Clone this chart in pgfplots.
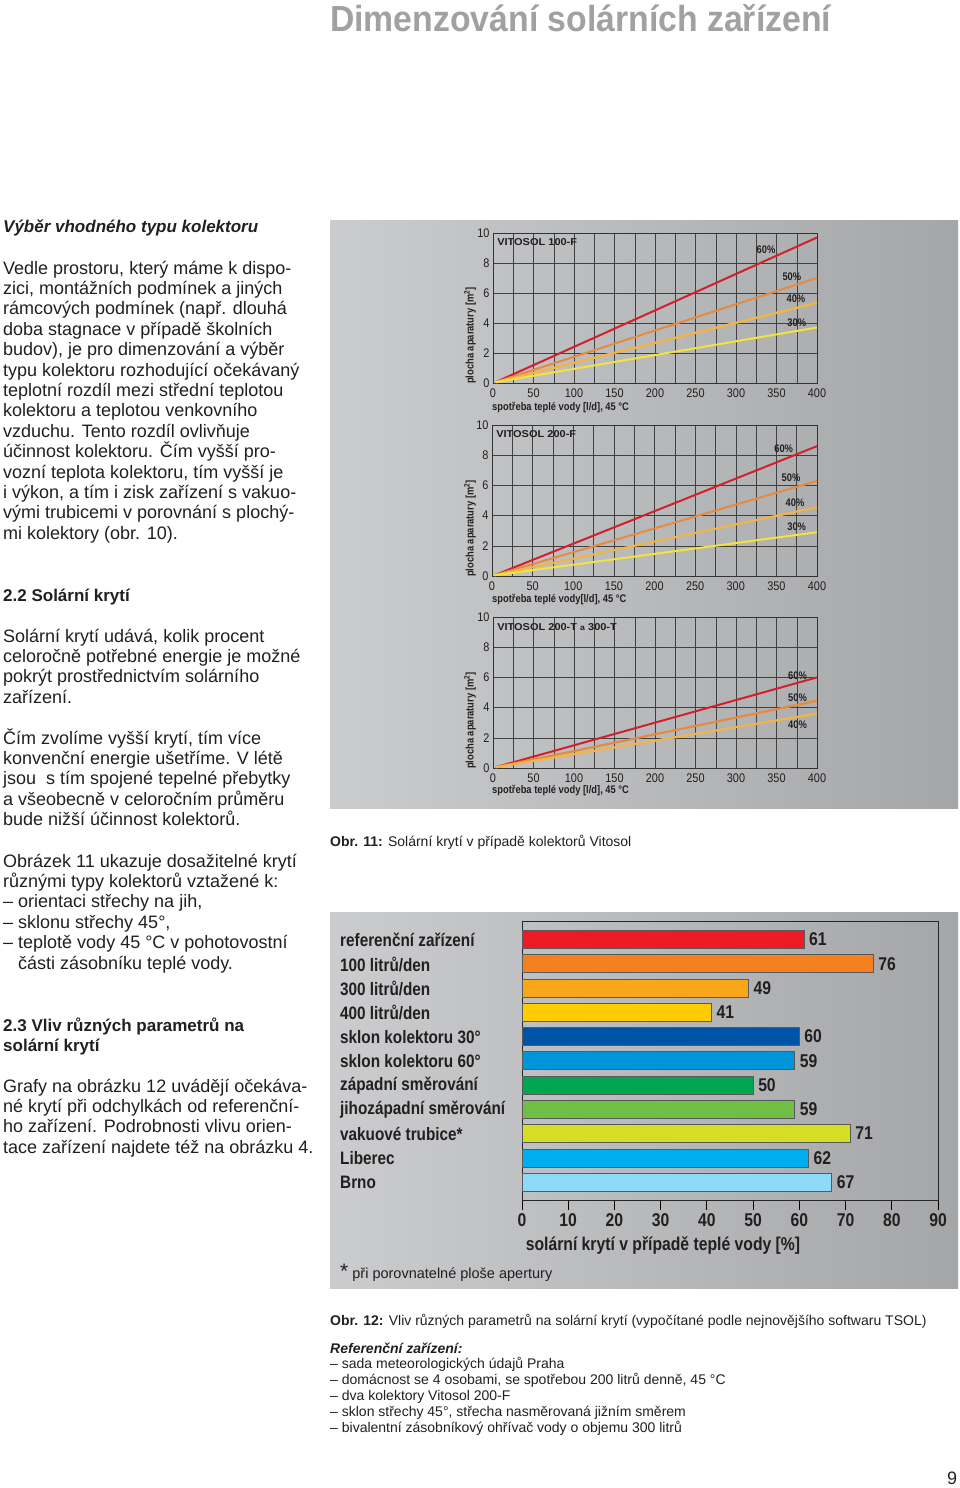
\documentclass[border=0pt]{standalone}
\usepackage{fontspec}
\usepackage{pgfplots}
\pgfplotsset{compat=1.18}
\setmainfont{Liberation Sans}
\newfontfamily\cond[FakeStretch=0.87]{Liberation Sans}
\newfontfamily\condb[FakeStretch=0.85]{Liberation Sans}
\newfontfamily\titlef[FakeStretch=0.93]{Liberation Sans}
\newfontfamily\wide[FakeStretch=1.1]{Liberation Sans}
\definecolor{txt}{RGB}{35,31,32}
\definecolor{titlegray}{RGB}{160,161,163}
\definecolor{panelL}{RGB}{203,204,206}
\definecolor{panelR}{RGB}{165,166,168}
\definecolor{l60}{RGB}{210,32,45}
\definecolor{l50}{RGB}{232,138,62}
\definecolor{l40}{RGB}{240,180,72}
\definecolor{l30}{RGB}{246,226,58}
\definecolor{c1}{RGB}{237,28,36}
\definecolor{c2}{RGB}{245,128,32}
\definecolor{c3}{RGB}{250,166,26}
\definecolor{c4}{RGB}{255,203,5}
\definecolor{c5}{RGB}{0,84,166}
\definecolor{c6}{RGB}{0,148,218}
\definecolor{c7}{RGB}{0,166,81}
\definecolor{c8}{RGB}{112,191,68}
\definecolor{c9}{RGB}{214,222,35}
\definecolor{c10}{RGB}{0,174,239}
\definecolor{c11}{RGB}{141,217,247}
\pgfplotsset{
  lc/.style={anchor=south west, scale only axis, width=324pt, height=150pt,
    xmin=0, xmax=400, ymin=0, ymax=10,
    xtick={0,50,...,400}, minor xtick={25,75,...,375}, ytick={0,2,...,10},
    grid=both, major grid style={black!75, line width=0.5pt},
    minor grid style={black!75, line width=0.5pt},
    axis line style={black!80, line width=0.6pt},
    major tick length=0pt, minor tick length=0pt,
    ticklabel style={font=\cond\fontsize{12.5}{12.5}\selectfont, text=txt},
    xticklabel style={yshift=-2pt},
    /pgf/number format/assume math mode=true, clip=false},
}
\tikzset{
  pct/.style={font=\condb\bfseries\fontsize{11}{11}\selectfont, text=txt, inner sep=0pt},
  vit/.style={font=\wide\bfseries\fontsize{10}{10}\selectfont, text=txt, inner sep=0pt, anchor=west},
  body/.style={anchor=base west, inner sep=0pt, font=\fontsize{18}{20}\selectfont, text=txt},
  head/.style={anchor=base west, inner sep=0pt, font=\bfseries\fontsize{17}{20}\selectfont, text=txt},
  small/.style={anchor=base west, inner sep=0pt, font=\fontsize{14}{16}\selectfont, text=txt},
  ylab/.style={rotate=90, anchor=west, inner sep=0pt, font=\condb\bfseries\fontsize{11}{11}\selectfont, text=txt},
  xlab/.style={anchor=west, inner sep=0pt, font=\condb\bfseries\fontsize{11}{11}\selectfont, text=txt},
}
\begin{document}
\begin{tikzpicture}[x=1pt,y=1pt]
\useasboundingbox (0,0) rectangle (960,-1488);
\fill[white] (0,0) rectangle (960,-1488);
% title
\node[anchor=base west, inner sep=0pt, text=titlegray, font=\titlef\bfseries\fontsize{36.3}{40}\selectfont] at (330,-32) {Dimenzování solárních zařízení};
% panels
\shade[left color=panelL, right color=panelR] (330,-220) rectangle (958,-808);
\shade[left color=panelL, right color=panelR] (330,-912) rectangle (958,-1288);
% left column
\node[head, font=\bfseries\itshape\fontsize{17}{20}\selectfont] at (3,-232) {Výběr vhodného typu kolektoru};
\foreach \t [count=\i from 0] in {{Vedle prostoru, který máme k dispo-},{zici, montážních podmínek a jiných},{rámcových podmínek (např. dlouhá},{doba stagnace v případě školních},{budov), je pro dimenzování a výběr},{typu kolektoru rozhodující očekávaný},{teplotní rozdíl mezi střední teplotou},{kolektoru a teplotou venkovního},{vzduchu. Tento rozdíl ovlivňuje},{účinnost kolektoru. Čím vyšší pro-},{vozní teplota kolektoru, tím vyšší je},{i výkon, a tím i zisk zařízení s vakuo-},{vými trubicemi v porovnání s plochý-},{mi kolektory (obr. 10).}}
  {\node[body] at (3,{-(274+\i*20.4)}) {\t};}
\node[head] at (3,-601) {2.2 Solární krytí};
\foreach \t [count=\i from 0] in {{Solární krytí udává, kolik procent},{celoročně potřebné energie je možné},{pokrýt prostřednictvím solárního},{zařízení.}}
  {\node[body] at (3,{-(642+\i*20.4)}) {\t};}
\foreach \t [count=\i from 0] in {{Čím zvolíme vyšší krytí, tím více},{konvenční energie ušetříme. V létě},{jsou \ s tím spojené tepelné přebytky},{a všeobecně v celoročním průměru},{bude nižší účinnost kolektorů.}}
  {\node[body] at (3,{-(744+\i*20.4)}) {\t};}
\foreach \t [count=\i from 0] in {{Obrázek 11 ukazuje dosažitelné krytí},{různými typy kolektorů vztažené k:},{– orientaci střechy na jih,},{– sklonu střechy 45°,},{– teplotě vody 45 °C v pohotovostní}}
  {\node[body] at (3,{-(867+\i*20.4)}) {\t};}
\node[body] at (18,-969) {části zásobníku teplé vody.};
\node[head] at (3,-1031) {2.3 Vliv různých parametrů na};
\node[head] at (3,-1051) {solární krytí};
\foreach \t [count=\i from 0] in {{Grafy na obrázku 12 uvádějí očekáva-},{né krytí při odchylkách od referenční-},{ho zařízení. Podrobnosti vlivu orien-},{tace zařízení najdete též na obrázku 4.}}
  {\node[body] at (3,{-(1092+\i*20.4)}) {\t};}

% ---------- line chart 1
\begin{axis}[lc, at={(493pt,-383pt)}]
\addplot[l60, line width=2pt] coordinates {(3,0.05) (400,9.7)};
\addplot[l50, line width=2pt] coordinates {(3,0.05) (400,7.0)};
\addplot[l40, line width=2.4pt] coordinates {(3,0.05) (400,5.35)};
\addplot[l30, line width=2pt] coordinates {(3,0.05) (400,3.7)};
\node[pct] at (axis cs:337,8.9) {60\%};
\node[pct] at (axis cs:369,7.1) {50\%};
\node[pct] at (axis cs:374,5.6) {40\%};
\node[pct] at (axis cs:375,4.0) {30\%};
\node[vit] at (axis cs:5,9.4) {VITOSOL 100-F};
\end{axis}
\node[ylab] at (470,-384) {plocha aparatury [m\textsuperscript{2}]};
\node[xlab] at (492,-408) {spotřeba teplé vody [l/d], 45 °C};

% ---------- line chart 2
\begin{axis}[lc, at={(492pt,-576pt)}, height=151pt, width=325pt]
\addplot[l60, line width=2pt] coordinates {(3,0.05) (400,8.6)};
\addplot[l50, line width=2pt] coordinates {(3,0.05) (400,6.3)};
\addplot[l40, line width=2.2pt] coordinates {(3,0.05) (400,4.55)};
\addplot[l30, line width=2pt] coordinates {(3,0.05) (400,2.9)};
\node[pct] at (axis cs:359,8.45) {60\%};
\node[pct] at (axis cs:368,6.5) {50\%};
\node[pct] at (axis cs:373,4.85) {40\%};
\node[pct] at (axis cs:375,3.25) {30\%};
\node[vit] at (axis cs:5,9.4) {VITOSOL 200-F};
\end{axis}
\node[ylab] at (470,-577) {plocha aparatury [m\textsuperscript{2}]};
\node[xlab] at (492,-600) {spotřeba teplé vody[l/d], 45 °C};

% ---------- line chart 3
\begin{axis}[lc, at={(493pt,-768pt)}, height=151pt]
\addplot[l60, line width=2pt] coordinates {(3,0.05) (400,6.0)};
\addplot[l50, line width=2.2pt] coordinates {(3,0.05) (400,4.45)};
\addplot[l40, line width=2.2pt] coordinates {(3,0.05) (400,3.6)};
\node[pct] at (axis cs:376,6.1) {60\%};
\node[pct] at (axis cs:376,4.65) {50\%};
\node[pct] at (axis cs:376,2.85) {40\%};
\node[vit] at (axis cs:5,9.35) {VITOSOL 200-T {\fontsize{8}{8}\selectfont a} 300-T};
\end{axis}
\node[ylab] at (470,-769) {plocha aparatury [m\textsuperscript{2}]};
\node[xlab] at (492,-791) {spotřeba teplé vody [l/d], 45 °C};

\node[anchor=west, inner sep=0pt, font=\fontsize{14}{16}\selectfont, text=txt] at (330,-842) {\textbf{Obr. 11:} Solární krytí v případě kolektorů Vitosol};

% ---------- bar chart
\begin{axis}[at={(522pt,-1200pt)}, anchor=south west, scale only axis,
  width=416pt, height=279pt, xbar, bar width=18pt,
  xmin=0, xmax=90, ymin=-0.76, ymax=10.74, y dir=reverse,
  ytick=\empty, xtick={0,10,...,90}, xtick pos=left, tick align=outside,
  major tick length=10pt, tick style={black, line width=0.8pt},
  axis line style={black!85, line width=0.8pt},
  xticklabel style={font=\condb\bfseries\fontsize{18.5}{18.5}\selectfont, text=txt},
  /pgf/number format/assume math mode=true,
  nodes near coords, every node near coord/.append style={font=\condb\bfseries\fontsize{18.5}{18.5}\selectfont, text=txt, anchor=west, xshift=1.5pt},
  every axis plot/.append style={bar shift=0pt, draw=black!65, line width=0.6pt},
  clip=false]
\addplot[fill=c1] coordinates {(61,0)};
\addplot[fill=c2] coordinates {(76,1)};
\addplot[fill=c3] coordinates {(49,2)};
\addplot[fill=c4] coordinates {(41,3)};
\addplot[fill=c5] coordinates {(60,4)};
\addplot[fill=c6] coordinates {(59,5)};
\addplot[fill=c7] coordinates {(50,6)};
\addplot[fill=c8] coordinates {(59,7)};
\addplot[fill=c9] coordinates {(71,8)};
\addplot[fill=c10] coordinates {(62,9)};
\addplot[fill=c11] coordinates {(67,10)};
\end{axis}
\foreach \t [count=\i from 0] in {{referenční zařízení},{100 litrů/den},{300 litrů/den},{400 litrů/den},{sklon kolektoru 30°},{sklon kolektoru 60°},{západní směrování},{jihozápadní směrování},{vakuové trubice*},{Liberec},{Brno}}
  {\node[anchor=west, inner sep=0pt, font=\condb\bfseries\fontsize{18}{18}\selectfont, text=txt] at (340,{-(940+\i*24.25)}) {\t};}
\node[inner sep=0pt, font=\condb\bfseries\fontsize{18.5}{18.5}\selectfont, text=txt] at (663,-1245) {solární krytí v případě teplé vody [\%]};
\node[anchor=base west, inner sep=0pt, font=\fontsize{14.5}{16}\selectfont, text=txt] at (340,-1278) {{\fontsize{21}{21}\selectfont *}\ při porovnatelné ploše apertury};

% ---------- bottom captions
\node[small] at (330,-1325) {\textbf{Obr. 12:} Vliv různých parametrů na solární krytí (vypočítané podle nejnovějšího softwaru TSOL)};
\node[small, font=\bfseries\itshape\fontsize{14}{16}\selectfont] at (330,-1353) {Referenční zařízení:};
\foreach \t [count=\i from 0] in {{– sada meteorologických údajů Praha},{– domácnost se 4 osobami, se spotřebou 200 litrů denně, 45 °C},{– dva kolektory Vitosol 200-F},{– sklon střechy 45°, střecha nasměrovaná jižním směrem},{– bivalentní zásobníkový ohřívač vody o objemu 300 litrů}}
  {\node[small] at (330,{-(1368+\i*16)}) {\t};}
\node[inner sep=0pt, font=\fontsize{18}{18}\selectfont, text=txt] at (952,-1478) {9};
\end{tikzpicture}
\end{document}
